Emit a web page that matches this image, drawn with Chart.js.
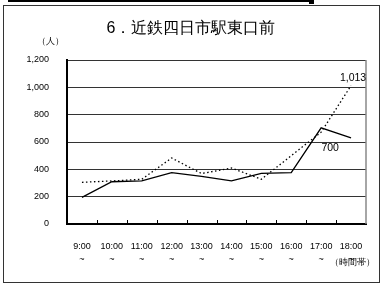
<!DOCTYPE html>
<html><head><meta charset="utf-8">
<script src="https://cdn.jsdelivr.net/npm/chart.js@4.4.1/dist/chart.umd.min.js"></script>
<style>
html,body{margin:0;padding:0;background:#fff;}
#wrap{position:relative;width:383px;height:287px;}
#frame{position:absolute;left:3px;top:5px;width:375px;height:276px;border:1.5px solid #333;}
#topline{position:absolute;left:8px;top:0;width:305px;height:2px;background:#000;}
#topblob{position:absolute;left:309px;top:0;width:5px;height:4px;background:#000;}
canvas{position:absolute;left:0;top:0;}
</style></head>
<body><div id="wrap"><div id="topline"></div><div id="topblob"></div><div id="frame"></div><canvas id="c" width="383" height="287"></canvas></div>
<script>
const title = "6．近鉄四日市駅東口前";
const yUnit = "（人）";
const xUnit = "（時間帯）";
const categories = ["9:00","10:00","11:00","12:00","13:00","14:00","15:00","16:00","17:00","18:00"];
const seriesSolid = [195, 309, 315, 376, 349, 316, 371, 376, 704, 631];
const seriesDotted = [305, 315, 327, 483, 369, 410, 327, 500, 672, 1013];
const yTicks = [0, 200, 400, 600, 800, 1000, 1200];
const pointLabels = [{series:1, index:9, text:"1,013"}, {series:0, index:8, text:"700"}];

const FONT = "'Liberation Sans', Arial, sans-serif";
const fmt = v => v.toLocaleString('en-US');

const decor = {
  id:'decor',
  afterDraw(chart){
    const ctx = chart.ctx, ca = chart.chartArea, xs = chart.scales.x;
    ctx.save();
    // right border
    ctx.strokeStyle = '#888'; ctx.lineWidth = 1.5;
    ctx.beginPath(); ctx.moveTo(ca.right, ca.top); ctx.lineTo(ca.right, ca.bottom); ctx.stroke();
    // inner tick marks at category boundaries
    ctx.strokeStyle = '#000'; ctx.lineWidth = 1;
    for (let i = 1; i < categories.length; i++) {
      const x = Math.round((xs.getPixelForValue(i-1) + xs.getPixelForValue(i)) / 2) + 0.5;
      ctx.beginPath(); ctx.moveTo(x, ca.bottom); ctx.lineTo(x, ca.bottom - 4); ctx.stroke();
    }
    ctx.fillStyle = '#000';
    ctx.textAlign = 'center'; ctx.textBaseline = 'middle';
    ctx.font = "16px " + FONT;
    ctx.fillText(title, 191, 29);
    ctx.font = "9px " + FONT;
    ctx.fillText(yUnit, 50, 42);
    ctx.fillText(xUnit, 352, 263);
    ctx.font = "10.5px " + FONT;
    pointLabels.forEach(l => {
      const p = chart.getDatasetMeta(l.series).data[l.index];
      if (l.series === 1) ctx.fillText(l.text, p.x + 2, p.y - 7);
      else ctx.fillText(l.text, p.x + 9, p.y + 20);
    });
    ctx.restore();
  }
};

new Chart(document.getElementById('c'), {
  type:'line',
  data:{
    labels: categories.map(c => [c, "~"]),
    datasets:[
      {label:'実線', data: seriesSolid, borderColor:'#000', borderWidth:1.3, pointRadius:0, tension:0, fill:false},
      {label:'点線', data: seriesDotted, borderColor:'#000', borderWidth:1.3, borderDash:[1.5,2.5], pointRadius:0, tension:0, fill:false}
    ]
  },
  options:{
    responsive:false, animation:false,
    layout:{padding:{left:0, top:60, right:17, bottom:0}},
    plugins:{legend:{display:false}, tooltip:{enabled:false}, title:{display:false}},
    scales:{
      x:{
        offset:true,
        grid:{display:false, offset:true},
        border:{display:true, color:'#000', width:2},
        ticks:{color:'#000', font:{size:9, family:FONT, lineHeight:1.45}, padding:8, maxRotation:0, autoSkip:false},
        afterFit(s){ s.height = 63; }
      },
      y:{
        min:0, max:1200,
        afterBuildTicks(s){ s.ticks = yTicks.map(v => ({value:v})); },
        grid:{color:'#333', lineWidth:1, drawTicks:false},
        border:{display:true, color:'#000', width:2},
        ticks:{color:'#000', font:{size:9, family:FONT}, padding:18, callback:v => fmt(v)},
        afterFit(s){ s.width = 67; }
      }
    }
  },
  plugins:[decor]
});
</script></body></html>
